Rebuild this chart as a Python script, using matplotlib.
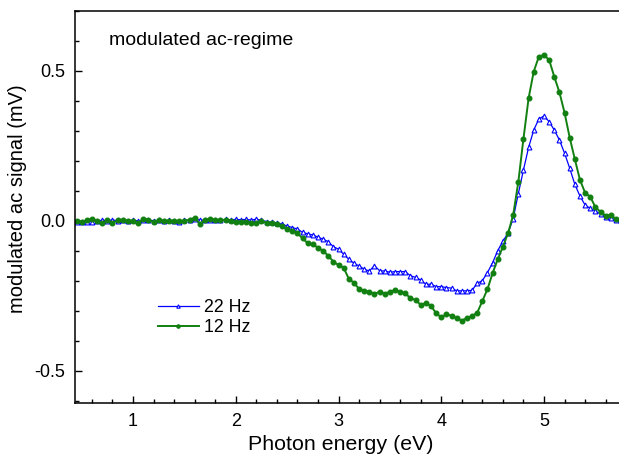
import numpy as np
import matplotlib
matplotlib.use("Agg")
import matplotlib.pyplot as plt
from matplotlib.ticker import MultipleLocator

plt.rcParams['font.family'] = ['Liberation Sans', 'DejaVu Sans']
plt.rcParams['axes.unicode_minus'] = False

# photon energy grid (eV)
energy = [0.45, 0.50, 0.55, 0.60, 0.65, 0.70, 0.75, 0.80, 0.85, 0.90,
          0.95, 1.00, 1.05, 1.10, 1.15, 1.20, 1.25, 1.30, 1.35, 1.40,
          1.45, 1.50, 1.55, 1.60, 1.65, 1.70, 1.75, 1.80, 1.85, 1.90,
          1.95, 2.00, 2.05, 2.10, 2.15, 2.20, 2.25, 2.30, 2.35, 2.40,
          2.45, 2.50, 2.55, 2.60, 2.65, 2.70, 2.75, 2.80, 2.85, 2.90,
          2.95, 3.00, 3.05, 3.10, 3.15, 3.20, 3.25, 3.30, 3.35, 3.40,
          3.45, 3.50, 3.55, 3.60, 3.65, 3.70, 3.75, 3.80, 3.85, 3.90,
          3.95, 4.00, 4.05, 4.10, 4.15, 4.20, 4.25, 4.30, 4.35, 4.40,
          4.45, 4.50, 4.55, 4.60, 4.65, 4.70, 4.75, 4.80, 4.85, 4.90,
          4.95, 5.00, 5.05, 5.10, 5.15, 5.20, 5.25, 5.30, 5.35, 5.40,
          5.45, 5.50, 5.55, 5.60, 5.65, 5.70, 5.75]

# 22 Hz signal (mV)
sig_22hz = [-0.003, -0.004, -0.004, -0.002, 0.001, 0.002, 0.001, 0.003, 0.001, 0.002,
            0.001, 0.002, 0.000, 0.002, 0.003, 0.001, 0.002, 0.000, 0.002, 0.001,
            -0.004, 0.002, 0.003, 0.006, 0.003, 0.002, 0.004, 0.003, 0.004, 0.005,
            0.004, 0.005, 0.004, 0.005, 0.003, 0.006, 0.002, -0.002, -0.004, -0.006,
            -0.011, -0.017, -0.022, -0.027, -0.038, -0.043, -0.047, -0.054, -0.061, -0.069,
            -0.086, -0.094, -0.111, -0.128, -0.141, -0.150, -0.161, -0.167, -0.149, -0.166,
            -0.167, -0.171, -0.169, -0.169, -0.169, -0.183, -0.188, -0.197, -0.211, -0.211,
            -0.219, -0.219, -0.222, -0.224, -0.233, -0.233, -0.233, -0.231, -0.208, -0.199,
            -0.172, -0.139, -0.099, -0.067, -0.041, 0.008, 0.091, 0.170, 0.245, 0.303,
            0.340, 0.350, 0.331, 0.303, 0.270, 0.226, 0.176, 0.122, 0.083, 0.053,
            0.042, 0.033, 0.023, 0.014, 0.009, 0.003, 0.000]

# 12 Hz signal (mV)
sig_12hz = [0.000, -0.002, 0.002, 0.008, 0.000, -0.007, 0.002, -0.006, 0.002, 0.002,
            0.001, 0.000, -0.008, 0.008, 0.004, -0.005, 0.002, 0.001, 0.001, 0.000,
            0.000, 0.000, 0.004, 0.011, -0.009, 0.003, 0.008, 0.004, 0.004, 0.003,
            0.000, -0.002, -0.002, -0.002, -0.008, -0.006, 0.001, -0.008, -0.006, -0.011,
            -0.017, -0.028, -0.032, -0.041, -0.058, -0.074, -0.078, -0.089, -0.100, -0.116,
            -0.136, -0.147, -0.156, -0.193, -0.206, -0.227, -0.232, -0.236, -0.243, -0.236,
            -0.243, -0.236, -0.230, -0.236, -0.241, -0.258, -0.263, -0.280, -0.274, -0.283,
            -0.308, -0.321, -0.311, -0.316, -0.324, -0.332, -0.324, -0.317, -0.306, -0.267,
            -0.227, -0.174, -0.127, -0.086, -0.041, 0.020, 0.130, 0.274, 0.409, 0.498,
            0.548, 0.553, 0.537, 0.481, 0.429, 0.361, 0.278, 0.206, 0.137, 0.094,
            0.081, 0.046, 0.030, 0.018, 0.020, 0.006, 0.000]

fig = plt.figure(figsize=(6.19, 4.57), dpi=100)
ax = fig.add_axes([75 / 619, 1 - 403 / 457, 544 / 619, 392 / 457])

ax.plot(energy, sig_22hz, color='#0000ff', lw=0.9, marker='^', ms=3.5,
        mfc='white', mec='#0000ff', mew=0.8, label='22 Hz')
ax.plot(energy, sig_12hz, color='#118011', lw=1.4, marker='o', ms=3.3,
        mfc='#118011', mec='#118011', label='12 Hz')

ax.set_xlim(0.435, 5.73)
ax.set_ylim(-0.607, 0.70)
ax.xaxis.set_major_locator(MultipleLocator(1))
ax.xaxis.set_minor_locator(MultipleLocator(0.2))
ax.yaxis.set_major_locator(MultipleLocator(0.5))
ax.yaxis.set_minor_locator(MultipleLocator(0.1))
ax.tick_params(which='both', direction='in', top=False, right=False,
               width=1.0, labelsize=13, pad=7)
ax.tick_params(which='major', length=5)
ax.tick_params(which='minor', length=3)
ax.spines['right'].set_visible(False)
for s in ['left', 'bottom', 'top']:
    ax.spines[s].set_linewidth(1.1)

ax.set_xlabel('Photon energy (eV)', fontsize=15.4)
ax.xaxis.set_label_coords(0.488, -0.082)
ax.set_ylabel('modulated ac signal (mV)', fontsize=14.5)
ax.yaxis.set_label_coords(-0.088, 0.522)

ax.text(0.062, 0.925, 'modulated ac-regime', transform=ax.transAxes,
        fontsize=14, va='center', ha='left')

ax.legend(loc='upper left', bbox_to_anchor=(0.153, 0.265), frameon=False,
          fontsize=12.8, numpoints=1, markerscale=0.7, handlelength=2.27,
          handletextpad=0.3, labelspacing=0.18, borderpad=0, borderaxespad=0)

fig.savefig('out.png', dpi=100)
